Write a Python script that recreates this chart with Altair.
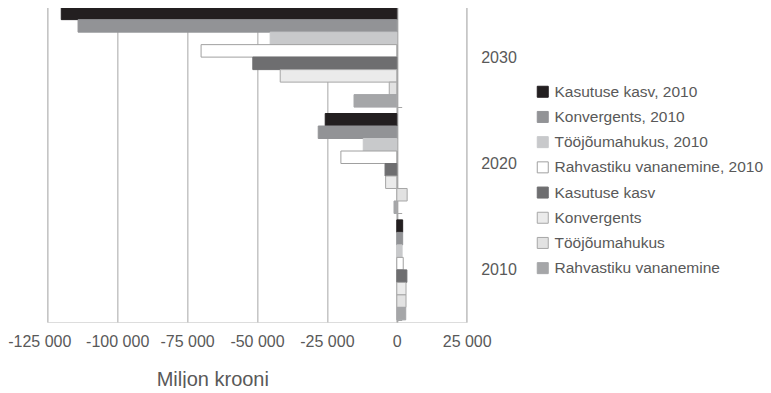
import altair as alt
import pandas as pd

years = ["2030", "2020", "2010"]
series = [
    "Kasutuse kasv, 2010",
    "Konvergents, 2010",
    "Tööjõumahukus, 2010",
    "Rahvastiku vananemine, 2010",
    "Kasutuse kasv",
    "Konvergents",
    "Tööjõumahukus",
    "Rahvastiku vananemine",
]
# values in order of years (2030, 2020, 2010)
kasutuse_kasv_2010 = [-120000, -25600, 2100]
konvergents_2010 = [-114000, -28100, 2100]
toojoumahukus_2010 = [-45300, -12000, 1900]
rahvastik_2010 = [-70000, -20000, 2300]
kasutuse_kasv = [-51500, -4200, 3600]
konvergents = [-41700, -4000, 3300]
toojoumahukus = [-2700, 3700, 3300]
rahvastik = [-15300, -1000, 3200]

tick_values = [-125000, -100000, -75000, -50000, -25000, 0, 25000]

all_values = [kasutuse_kasv_2010, konvergents_2010, toojoumahukus_2010, rahvastik_2010,
              kasutuse_kasv, konvergents, toojoumahukus, rahvastik]
rows = []
for s, vals in zip(series, all_values):
    for y, v in zip(years, vals):
        rows.append({"year": y, "series": s, "value": v})
df = pd.DataFrame(rows)

fills = ["#231f20", "#929396", "#c8c9cb", "#ffffff", "#6e6e70", "#ebebeb", "#e2e2e2", "#a5a6a8"]
strokes = ["#231f20", "#929396", "#c8c9cb", "#a0a0a0", "#6e6e70", "#a6a6a6", "#a6a6a6", "#a5a6a8"]

txt = "#595959"
font = "Liberation Sans"

leg = alt.Legend(
    title=None, orient="none", legendX=487.7, legendY=79,
    symbolType="square", symbolSize=121, symbolStrokeWidth=1,
    labelFontSize=15.5, labelColor=txt, labelFont=font, labelLimit=0,
    rowPadding=8.2, labelOffset=4, padding=0,
)

chart = alt.Chart(df).mark_bar(strokeWidth=1).encode(
    x=alt.X(
        "value:Q",
        scale=alt.Scale(domain=[-125000, 25000], nice=False, zero=False),
        axis=alt.Axis(
            values=tick_values, grid=True, gridColor="#c4c4c4", gridWidth=1.5,
            domain=False, ticks=False, tickSize=0,
            labelExpr="(datum.value < 0 ? '-' : '') + replace(format(abs(datum.value), ','), ',', ' ')",
            labelFontSize=16, labelColor=txt, labelFont=font, labelPadding=11,
            labelOverlap=False, labelFlush=False,
            labelOffset=alt.condition("datum.value == -125000", alt.value(-8), alt.value(0)),
            title="Miljon krooni", titleFontSize=20, titleFontWeight="normal",
            titleColor=txt, titleFont=font, titleX=165, titlePadding=20,
        ),
    ),
    y=alt.Y(
        "year:N", sort=years,
        scale=alt.Scale(domain=years, paddingInner=0.06, paddingOuter=0.02),
        axis=alt.Axis(
            orient="right", offset=-70, title=None,
            domainColor="#a6a6a6", domainWidth=1.5,
            tickColor="#a6a6a6", tickSize=5, tickBand="extent", tickWidth=1,
            labelPadding=79, labelFontSize=16, labelColor=txt, labelFont=font,
            grid=False,
        ),
    ),
    yOffset=alt.YOffset("series:N", sort=series, scale=alt.Scale(domain=series)),
    fill=alt.Fill("series:N", scale=alt.Scale(domain=series, range=fills), legend=leg),
    stroke=alt.Stroke("series:N", scale=alt.Scale(domain=series, range=strokes), legend=leg),
).properties(
    width=419.4, height=317,
    autosize=alt.AutoSizeParams(type="none"),
    padding={"left": 39.3, "top": -3, "right": 296.3, "bottom": 66},
).configure_view(stroke=None).configure(font=font)

chart.save("out.html", embed_options={"renderer": "svg", "actions": False})
